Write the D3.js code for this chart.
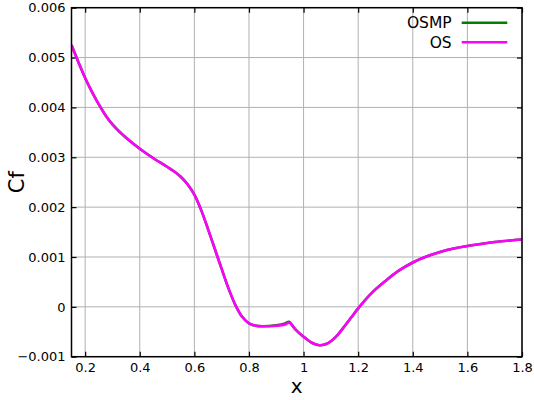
<!DOCTYPE html>
<html>
<head>
<meta charset="utf-8">
<script src="https://cdn.jsdelivr.net/npm/d3@7"></script>
<style>
  html, body { margin: 0; padding: 0; background: #fff; }
  svg { display: block; font-family: "DejaVu Sans", sans-serif; }
</style>
</head>
<body>
<svg id="chart" width="534" height="400"></svg>
<script>
// Skin-friction coefficient along x for the two solvers
const xValues = [0.15, 0.175, 0.2, 0.225, 0.25, 0.275, 0.3, 0.35, 0.4, 0.45, 0.5, 0.525, 0.55, 0.575, 0.6, 0.625, 0.65, 0.675, 0.7, 0.725, 0.75, 0.775, 0.8, 0.825, 0.85, 0.9, 0.93, 0.947, 0.957, 0.97, 1.0, 1.03, 1.058, 1.08, 1.1, 1.125, 1.15, 1.175, 1.2, 1.25, 1.3, 1.35, 1.4, 1.45, 1.5, 1.55, 1.6, 1.7, 1.8];
const cfOS = [0.00525, 0.00491, 0.00459, 0.00431, 0.00406, 0.00384, 0.00366, 0.00339, 0.00317, 0.00298, 0.00281, 0.00272, 0.00261, 0.00246, 0.00225, 0.00194, 0.00156, 0.00116, 0.00076, 0.00037, 0.00004, -0.00020, -0.00033, -0.00038, -0.00039, -0.00038, -0.00036, -0.00032, -0.00036, -0.00045, -0.00060, -0.00072, -0.00077, -0.00075, -0.00069, -0.00056, -0.00039, -0.00021, -0.00003, 0.00028, 0.00052, 0.00073, 0.00089, 0.00101, 0.00110, 0.00117, 0.00122, 0.00130, 0.00135];
const cfOSMP = [0.00525, 0.00491, 0.00459, 0.00431, 0.00406, 0.00384, 0.00366, 0.00339, 0.00317, 0.00298, 0.00281, 0.00272, 0.00261, 0.00246, 0.00225, 0.00194, 0.00156, 0.00116, 0.00076, 0.00037, 0.00004, -0.00020, -0.00033, -0.00038, -0.00039, -0.00037, -0.00034, -0.00030, -0.00036, -0.00045, -0.00060, -0.00072, -0.00077, -0.00075, -0.00069, -0.00056, -0.00039, -0.00021, -0.00003, 0.00028, 0.00052, 0.00073, 0.00089, 0.00101, 0.00110, 0.00117, 0.00122, 0.00130, 0.00135];

const xTicks = [0.2, 0.4, 0.6, 0.8, 1.0, 1.2, 1.4, 1.6, 1.8];
const yTicks = [-0.001, 0, 0.001, 0.002, 0.003, 0.004, 0.005, 0.006];
const seriesNames = ["OSMP", "OS"];
const seriesColors = ["#008000", "#ff00ff"];

const plotL = 71.5, plotR = 522, plotT = 7.7, plotB = 356.7;
const svg = d3.select("#chart");

const x = d3.scaleLinear().domain([0.15, 1.8]).range([plotL, plotR]);
const y = d3.scaleLinear().domain([-0.001, 0.006]).range([plotB, plotT]);

const fmtX = d => (d === 1 ? "1" : d3.format(".1f")(d));
const fmtY = d => (d === 0 ? "0" : d3.format(".3f")(d));

// grid
const grid = svg.append("g").attr("stroke", "#b0b0b0").attr("stroke-width", 1);
grid.selectAll("line.gx").data(xTicks).join("line")
  .attr("x1", d => x(d)).attr("x2", d => x(d)).attr("y1", plotT).attr("y2", plotB);
grid.selectAll("line.gy").data(yTicks).join("line")
  .attr("y1", d => y(d)).attr("y2", d => y(d)).attr("x1", plotL).attr("x2", plotR);

// axes (ticks inward, mirrored on top and right)
const tickLen = 5;
const axB = svg.append("g").attr("transform", `translate(0,${plotB})`)
  .call(d3.axisBottom(x).tickValues(xTicks).tickFormat(fmtX).tickSizeInner(-tickLen).tickSizeOuter(0).tickPadding(6));
const axT = svg.append("g").attr("transform", `translate(0,${plotT})`)
  .call(d3.axisTop(x).tickValues(xTicks).tickFormat("").tickSizeInner(-tickLen).tickSizeOuter(0));
const axL = svg.append("g").attr("transform", `translate(${plotL},0)`)
  .call(d3.axisLeft(y).tickValues(yTicks).tickFormat(fmtY).tickSizeInner(-tickLen).tickSizeOuter(0).tickPadding(6));
const axR = svg.append("g").attr("transform", `translate(${plotR},0)`)
  .call(d3.axisRight(y).tickValues(yTicks).tickFormat("").tickSizeInner(-tickLen).tickSizeOuter(0));
[axB, axT, axL, axR].forEach(g => {
  g.select(".domain").remove();
  g.selectAll(".tick line").attr("stroke", "#000").attr("stroke-width", 1.2);
  g.selectAll("text").attr("font-family", "DejaVu Sans, sans-serif").attr("font-size", 13).attr("fill", "#000");
});

// series
svg.append("clipPath").attr("id", "plotclip").append("rect")
  .attr("x", plotL).attr("y", plotT).attr("width", plotR - plotL).attr("height", plotB - plotT);
const line = d3.line().x(d => x(d[0])).y(d => y(d[1])).curve(d3.curveCatmullRom.alpha(0.5));
const series = [cfOSMP, cfOS];
series.forEach((vals, i) => {
  svg.append("path")
    .datum(xValues.map((xv, j) => [xv, vals[j]]))
    .attr("clip-path", "url(#plotclip)")
    .attr("fill", "none")
    .attr("stroke", seriesColors[i])
    .attr("stroke-width", 2.6)
    .attr("stroke-linejoin", "round")
    .attr("d", line);
});

// border
svg.append("rect").attr("x", plotL).attr("y", plotT).attr("width", plotR - plotL).attr("height", plotB - plotT)
  .attr("fill", "none").attr("stroke", "#000").attr("stroke-width", 1.5);

// legend
const leg = svg.append("g");
seriesNames.forEach((name, i) => {
  const ly = 22.7 + i * 19.6;
  leg.append("line").attr("x1", 461.7).attr("x2", 507.3).attr("y1", ly).attr("y2", ly)
    .attr("stroke", seriesColors[i]).attr("stroke-width", 2.6);
  leg.append("text").attr("x", 451.7).attr("y", ly + 5.5).attr("text-anchor", "end")
    .attr("font-size", 15.5).attr("fill", "#000").text(name);
});

// axis titles
svg.append("text").attr("x", (plotL + plotR) / 2).attr("y", 393).attr("text-anchor", "middle")
  .attr("font-size", 20).attr("fill", "#000").text("x");
svg.append("text").attr("transform", `translate(24,${(plotT + plotB) / 2}) rotate(-90)`)
  .attr("text-anchor", "middle").attr("font-size", 21).attr("fill", "#000").text("Cf");
</script>
</body>
</html>
